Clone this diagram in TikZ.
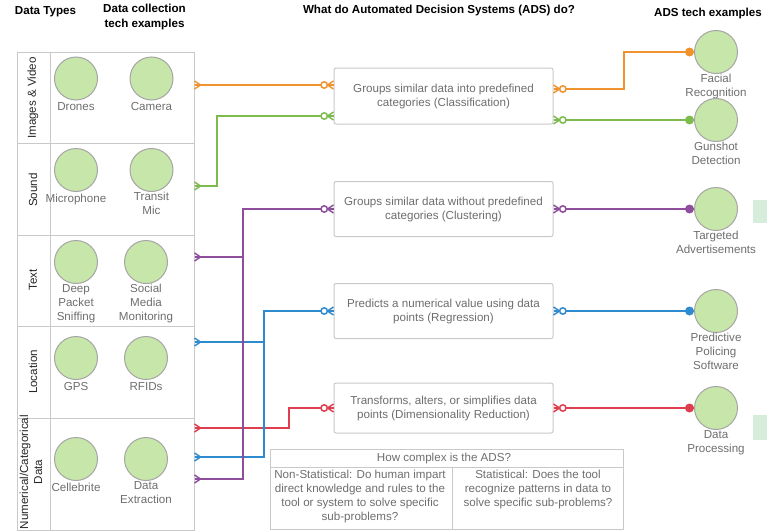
\documentclass[tikz,border=0pt]{standalone}
\usepackage{fontspec}
\setmainfont{Liberation Sans}
\usetikzlibrary{arrows.meta}

\definecolor{gridgray}{HTML}{C9C9C9}
\definecolor{txtgray}{HTML}{6E6E6E}
\definecolor{devfill}{HTML}{C7E6A9}
\definecolor{devline}{HTML}{A5A5A5}
\definecolor{cOrange}{HTML}{F0922E}
\definecolor{cGreen}{HTML}{7DBB4E}
\definecolor{cPurple}{HTML}{8E4E9C}
\definecolor{cBlue}{HTML}{2E8BCF}
\definecolor{cRed}{HTML}{DE3E4E}
\definecolor{mint}{HTML}{D5EDDA}

\newcommand{\basefont}{\fontsize{11.6}{14}\selectfont}

\tikzset{
  hdr/.style={font=\basefont\bfseries, text=black, inner sep=0pt, align=center},
  rowlbl/.style={rotate=90, text=black!85, inner sep=0pt, align=center},
  rowcell/.style={draw=gridgray, line width=1pt, minimum width=177pt, inner sep=0pt},
  dev/.style={circle, fill=devfill, draw=devline, line width=1pt, minimum size=43pt,
              inner sep=0pt, label distance=2pt},
  devlbl/.style={text=txtgray, align=center, inner sep=0pt, execute at begin node=\strut},
  adsbox/.style={draw=gridgray, line width=1pt, rounded corners=2pt, fill=white,
                 minimum width=219pt, text=txtgray, align=center, inner sep=0pt},
  cpx/.style={text=txtgray, align=center, inner sep=0pt},
  wire/.style={line width=2pt},
  crow/.pic={\draw[line width=1.5pt] (0,-4) -- (6,0) -- (0,4);},
  ocrow/.pic={\draw[line width=1.5pt] (0,-4) -- (6,0) -- (0,4);
              \draw[line width=1.5pt, fill=white] (9.3,0) circle (3.2);},
  fdot/.pic={\fill (-4.5,0) circle (4.5);}
}

\begin{document}
\begin{tikzpicture}[x=1pt, y=-1pt, font=\basefont]
\useasboundingbox (0,0) rectangle (767,530);

% column headings
\node[hdr] (hType) at (45.5,12) {Data Types};
\node[hdr] (hColl) at (144.5,17) {Data collection\\tech examples};
\node[hdr] (hAds)  at (439,11) {What do Automated Decision Systems (ADS) do?};
\node[hdr] (hTech) at (708,14) {ADS tech examples};

% data-type table: one row per data type
\node[rowcell, minimum height=91pt]  (rowImg) at (105.5,97.5) {};
\node[rowcell, minimum height=92pt]  (rowSnd) at (105.5,189) {};
\node[rowcell, minimum height=91pt]  (rowTxt) at (105.5,280.5) {};
\node[rowcell, minimum height=92pt]  (rowLoc) at (105.5,372) {};
\node[rowcell, minimum height=112pt] (rowNum) at (105.5,474) {};
\draw[gridgray, line width=1pt] (50,52) -- (50,530);

\node[rowlbl] (lImg) at (33,98)  {Images \& Video};
\node[rowlbl] (lSnd) at (33,190) {Sound};
\node[rowlbl] (lTxt) at (33,280) {Text};
\node[rowlbl] (lLoc) at (33,372) {Location};
\node[rowlbl] (lNum) at (31,472) {Numerical/Categorical\\Data};

% data collection devices
\node[dev, label={[devlbl]below:Drones}] (dDrones) at (76,78.5) {};
\node[dev, label={[devlbl]below:Camera}] (dCamera) at (151.5,78.5) {};
\node[dev, label={[devlbl]below:Microphone}] (dMic) at (76,170) {};
\node[dev, label={[devlbl]below:{Transit\\Mic}}] (dTransit) at (151.5,170) {};
\node[dev, label={[devlbl]below:{Deep\\Packet\\Sniffing}}] (dDpi) at (76,262) {};
\node[dev, label={[devlbl]below:{Social\\Media\\Monitoring}}] (dSocial) at (146,262) {};
\node[dev, label={[devlbl]below:GPS}] (dGps) at (76,358) {};
\node[dev, label={[devlbl]below:RFIDs}] (dRfid) at (146,358) {};
\node[dev, label={[devlbl]below:Cellebrite}] (dCell) at (76,459) {};
\node[dev, label={[devlbl]below:{Data\\Extraction}}] (dExtr) at (146,459) {};

% what the systems do
\node[adsbox, minimum height=56pt] (box1) at (443.5,96)
  {Groups similar data into predefined\\categories (Classification)};
\node[adsbox, minimum height=55pt] (box2) at (443.5,209)
  {Groups similar data without predefined\\categories (Clustering)};
\node[adsbox, minimum height=55pt] (box3) at (443.5,311)
  {Predicts a numerical value using data\\points (Regression)};
\node[adsbox, minimum height=50pt] (box4) at (443.5,408)
  {Transforms, alters, or simplifies data\\points (Dimensionality Reduction)};

% example technologies
\node[dev, label={[devlbl]below:{Facial\\Recognition}}] (cFacial) at (716,52) {};
\node[dev, label={[devlbl]below:{Gunshot\\Detection}}] (cGun) at (716,120) {};
\node[dev, label={[devlbl]below:{Targeted\\Advertisements}}] (cTarget) at (716,209) {};
\node[dev, label={[devlbl]below:{Predictive\\Policing\\Software}}] (cPred) at (716,311) {};
\node[dev, label={[devlbl]below:{Data\\Processing}}] (cData) at (716,408) {};

\fill[mint] (753,200) rectangle (767,223);
\fill[mint] (753,415) rectangle (767,440);

% trunk corners of the shared wires
\coordinate (pTrunk) at (243,209);
\coordinate (bTrunk) at (264,311);

% orange: images -> classification -> facial recognition
\draw[wire, cOrange] ([yshift=12.5pt]rowImg.east) -- ([yshift=11pt]box1.west);
\draw[wire, cOrange] ([yshift=7pt]box1.east) -- ++(70,0) |- (cFacial.west);

% green: sound -> classification -> gunshot detection
\draw[wire, cGreen] ([yshift=3pt]rowSnd.east) -- ++(22,0) |- ([yshift=-20pt]box1.west);
\draw[wire, cGreen] ([yshift=-24pt]box1.east) -- (cGun.west);

% purple: text + numerical -> clustering -> targeted ads
\draw[wire, cPurple] ([yshift=-5pt]rowNum.east) -| (pTrunk) -- (box2.west);
\draw[wire, cPurple] ([yshift=23.5pt]rowTxt.east) -| (pTrunk);
\draw[wire, cPurple] (box2.east) -- (cTarget.west);

% blue: location + numerical -> regression -> predictive policing
\draw[wire, cBlue] ([yshift=17pt]rowNum.east) -| (bTrunk) -- (box3.west);
\draw[wire, cBlue] ([yshift=30pt]rowLoc.east) -| (bTrunk);
\draw[wire, cBlue] (box3.east) -- (cPred.west);

% red: numerical -> dimensionality reduction -> data processing
\draw[wire, cRed] ([yshift=46pt]rowNum.east) -- ++(94,0) |- (box4.west);
\draw[wire, cRed] (box4.east) -- (cData.west);

% small hop dots where wires cross
\fill[cPurple] (243,342) circle (1.9);
\fill[cPurple] (243,428) circle (1.9);
\fill[cPurple] (243,457) circle (1.9);
\fill[cBlue]   (264,428) circle (1.9);

% end markers on the table side
\pic[color=cOrange] at ([yshift=12.5pt]rowImg.east) {crow};
\pic[color=cGreen]  at ([yshift=3pt]rowSnd.east) {crow};
\pic[color=cPurple] at ([yshift=23.5pt]rowTxt.east) {crow};
\pic[color=cBlue]   at ([yshift=30pt]rowLoc.east) {crow};
\pic[color=cRed]    at ([yshift=46pt]rowNum.east) {crow};
\pic[color=cBlue]   at ([yshift=17pt]rowNum.east) {crow};
\pic[color=cPurple] at ([yshift=-5pt]rowNum.east) {crow};

% end markers at the system boxes
\pic[color=cOrange, rotate=180] at ([yshift=11pt]box1.west) {ocrow};
\pic[color=cGreen,  rotate=180] at ([yshift=-20pt]box1.west) {ocrow};
\pic[color=cPurple, rotate=180] at (box2.west) {ocrow};
\pic[color=cBlue,   rotate=180] at (box3.west) {ocrow};
\pic[color=cRed,    rotate=180] at (box4.west) {ocrow};
\pic[color=cOrange] at ([yshift=7pt]box1.east) {ocrow};
\pic[color=cGreen]  at ([yshift=-24pt]box1.east) {ocrow};
\pic[color=cPurple] at (box2.east) {ocrow};
\pic[color=cBlue]   at (box3.east) {ocrow};
\pic[color=cRed]    at (box4.east) {ocrow};

% filled dots where the wires meet the technology examples
\pic[color=cOrange] at (cFacial.west) {fdot};
\pic[color=cGreen]  at (cGun.west) {fdot};
\pic[color=cPurple] at (cTarget.west) {fdot};
\pic[color=cBlue]   at (cPred.west) {fdot};
\pic[color=cRed]    at (cData.west) {fdot};

% complexity table
\draw[gridgray, line width=1pt] (270,449) rectangle (623,529);
\draw[gridgray, line width=1pt] (270,467) -- (623,467);
\draw[gridgray, line width=1pt] (452,467) -- (452,529);
\node[cpx] (qHead) at (444,458) {How complex is the ADS?};
\node[cpx, anchor=north] (qNon) at (360,468)
  {\strut Non-Statistical: Do human impart\\direct knowledge and rules to the\\tool or system to solve specific\\sub-problems?};
\node[cpx, anchor=north] (qStat) at (538,468)
  {\strut Statistical: Does the tool\\recognize patterns in data to\\solve specific sub-problems?};
\end{tikzpicture}
\end{document}
